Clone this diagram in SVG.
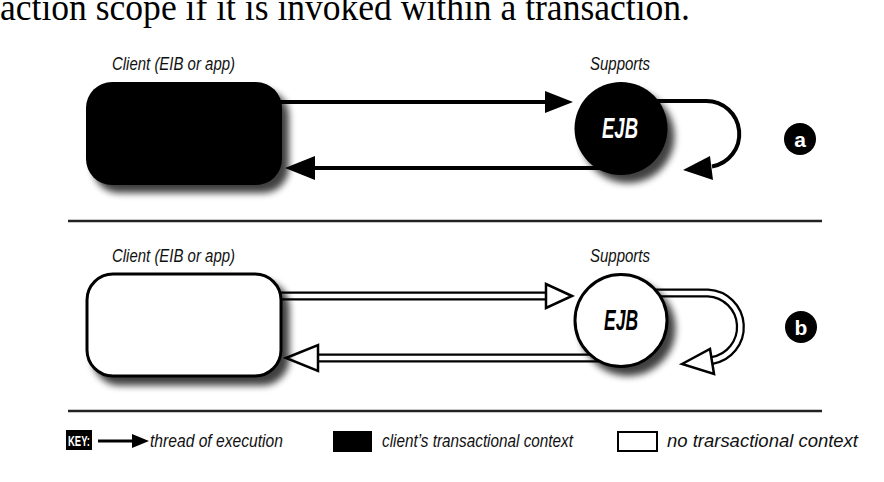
<svg xmlns="http://www.w3.org/2000/svg" width="884" height="482" viewBox="0 0 884 482">
<defs>
<filter id="sh" x="-30%" y="-30%" width="170%" height="170%">
<feGaussianBlur in="SourceAlpha" stdDeviation="3.5"/>
<feOffset dx="7" dy="8" result="b"/>
<feComponentTransfer><feFuncA type="linear" slope="0.75"/></feComponentTransfer>
<feMerge><feMergeNode/><feMergeNode in="SourceGraphic"/></feMerge>
</filter>
<linearGradient id="blue" x1="0" x2="1" y1="0" y2="0">
<stop offset="0" stop-color="#8fb4e3" stop-opacity="0"/>
<stop offset="0.15" stop-color="#8fb4e3"/>
<stop offset="0.85" stop-color="#8fb4e3"/>
<stop offset="1" stop-color="#8fb4e3" stop-opacity="0"/>
</linearGradient>
<style>
.lbl{font-family:"Liberation Sans",Arial,sans-serif;font-style:italic;font-size:19px;fill:#111}
.ejb{font-family:"Liberation Sans",Arial,sans-serif;font-style:italic;font-weight:bold;font-size:30px;text-anchor:middle}
.key{font-family:"Liberation Sans",Arial,sans-serif;font-style:italic;font-size:19px;fill:#111}
.sep{stroke:#222;stroke-width:2.5}
.solid{fill:none;stroke:#000;stroke-width:4}
.hollowO{fill:none;stroke:#000;stroke-width:9}
.hollowI{fill:none;stroke:#fff;stroke-width:4.5}
.headS{fill:#000}
.headH{fill:#fff;stroke:#000;stroke-width:2.5;stroke-linejoin:miter}
.tag{fill:#000}
.tagt{font-family:"Liberation Sans",Arial,sans-serif;font-weight:bold;font-size:21px;fill:#fff;text-anchor:middle}
</style>
</defs>
<rect width="884" height="482" fill="#fff"/>
<text x="0" y="20" font-family="'Liberation Serif','DejaVu Serif',serif" font-size="38" textLength="690" lengthAdjust="spacingAndGlyphs" fill="#000">action scope if it is invoked within a transaction.</text>

<g id="separators">
<line class="sep" x1="68" y1="221" x2="822" y2="221"/>
<line class="sep" x1="68" y1="411" x2="822" y2="411"/>
</g>

<g id="connectors">
<line class="solid" x1="280" y1="102" x2="548" y2="102"/>
<polygon class="headS" points="573,102 545,91 545,113"/>
<line class="solid" x1="610" y1="168" x2="312" y2="168"/>
<polygon class="headS" points="285,168 315,156 315,180"/>
<path class="solid" d="M655 101 H706 A33 33 0 0 1 712 166.5"/>
<polygon class="headS" points="683,170 710,156 713,180"/>
<line class="hollowO" x1="280" y1="296" x2="548" y2="296"/>
<line class="hollowI" x1="278" y1="296" x2="550" y2="296"/>
<polygon class="headH" points="572,296 546,284 546,308"/>
<line class="hollowO" x1="610" y1="358" x2="316" y2="358"/>
<line class="hollowI" x1="612" y1="358" x2="314" y2="358"/>
<polygon class="headH" points="286,358 318,345 318,371"/>
<path class="hollowO" d="M655 293 H708 A34 34 0 0 1 712 360.5"/>
<path class="hollowI" d="M655 293 H708 A34 34 0 0 1 712 360.5"/>
<polygon class="headH" points="682,364 710,349 714,374"/>
</g>

<g id="client-a">
<text class="lbl" x="112" y="70" textLength="123" lengthAdjust="spacingAndGlyphs">Client (EIB or app)</text>
<rect x="86" y="82" width="196" height="103" rx="26" fill="#000" filter="url(#sh)"/>
</g>
<g id="ejb-a">
<text class="lbl" x="590" y="70" textLength="60" lengthAdjust="spacingAndGlyphs">Supports</text>
<circle cx="621" cy="128.5" r="46.5" fill="#000" filter="url(#sh)"/>
<text class="ejb" x="620" y="138" fill="#fff" textLength="36" lengthAdjust="spacingAndGlyphs">EJB</text>
</g>
<g id="tag-a">
<circle class="tag" cx="800" cy="139" r="16"/>
<text class="tagt" x="800" y="147">a</text>
</g>

<g id="client-b">
<text class="lbl" x="112" y="262" textLength="123" lengthAdjust="spacingAndGlyphs">Client (EIB or app)</text>
<rect x="87" y="274" width="194" height="102" rx="26" fill="#fff" stroke="#000" stroke-width="3" filter="url(#sh)"/>
</g>
<g id="ejb-b">
<text class="lbl" x="590" y="262" textLength="60" lengthAdjust="spacingAndGlyphs">Supports</text>
<circle cx="621" cy="320.5" r="46" fill="#fff" stroke="#000" stroke-width="3" filter="url(#sh)"/>
<text class="ejb" x="621" y="330" fill="#000" textLength="34" lengthAdjust="spacingAndGlyphs">EJB</text>
</g>
<g id="tag-b">
<circle class="tag" cx="801" cy="327" r="16"/>
<text class="tagt" x="801" y="335">b</text>
</g>

<g id="legend">
<rect x="66" y="430" width="26" height="20" fill="#000"/>
<text x="79" y="446" font-family="'Liberation Sans',Arial,sans-serif" font-weight="bold" font-size="14" fill="#fff" text-anchor="middle" textLength="22" lengthAdjust="spacingAndGlyphs">KEY:</text>
<line x1="98" y1="441" x2="135" y2="441" stroke="#000" stroke-width="3"/>
<polygon points="149,441 132,434 132,448" fill="#000"/>
<text class="key" x="150" y="447" textLength="133" lengthAdjust="spacingAndGlyphs">thread of execution</text>
<rect x="333" y="431" width="39" height="21" fill="#000"/>
<text class="key" x="382" y="447" textLength="191" lengthAdjust="spacingAndGlyphs">client’s transactional context</text>
<rect x="618" y="432" width="39" height="19" fill="#fff" stroke="#000" stroke-width="2"/>
<text class="key" x="667" y="447" textLength="191" lengthAdjust="spacingAndGlyphs">no trarsactional context</text>
</g>
<line x1="175" y1="480" x2="705" y2="480" stroke="url(#blue)" stroke-width="2.5"/>
</svg>
